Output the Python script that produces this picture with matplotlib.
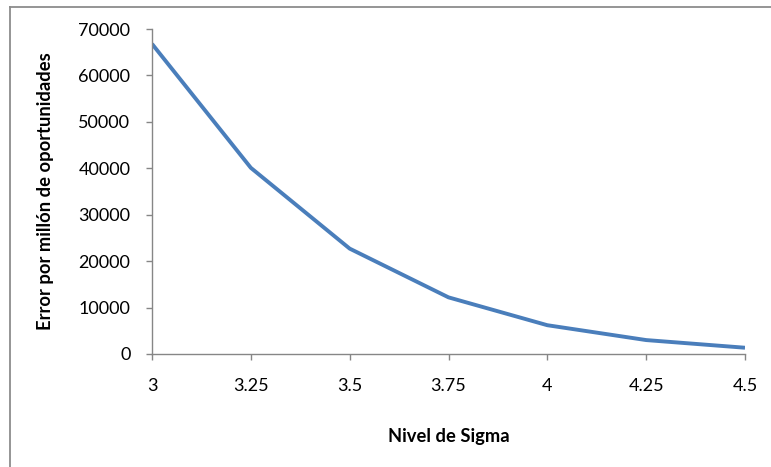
import matplotlib
matplotlib.use('Agg')
import matplotlib.pyplot as plt
from matplotlib.lines import Line2D

# Sigma levels and defects per million opportunities
sigma = [3, 3.25, 3.5, 3.75, 4, 4.25, 4.5]
dpmo = [66800, 40100, 22700, 12200, 6200, 3000, 1350]
sigma_labels = ['3', '3.25', '3.5', '3.75', '4', '4.25', '4.5']
y_ticks = [0, 10000, 20000, 30000, 40000, 50000, 60000, 70000]

plt.rcParams['font.family'] = ['Lato', 'DejaVu Sans']

fig = plt.figure(figsize=(7.71, 4.67), dpi=100, facecolor='w')
ax = fig.add_axes([152 / 771, 1 - 354 / 467, 593 / 771, 325 / 467])

ax.plot(sigma, dpmo, color='#4A7EBB', lw=2.8, solid_capstyle='butt',
        solid_joinstyle='round')

ax.set_xlim(3, 4.5)
ax.set_ylim(0, 70000)
ax.set_xticks(sigma)
ax.set_xticklabels(sigma_labels)
ax.set_yticks(y_ticks)
ax.set_yticklabels([str(v) for v in y_ticks])

axis_grey = '#868686'
for spine in ('top', 'right'):
    ax.spines[spine].set_visible(False)
for spine in ('left', 'bottom'):
    ax.spines[spine].set_color(axis_grey)
    ax.spines[spine].set_linewidth(1.0)

ax.tick_params(axis='both', direction='out', length=4.5, width=1.0,
               color=axis_grey, labelsize=13, labelcolor='black')
ax.tick_params(axis='x', pad=13)
ax.tick_params(axis='y', pad=11)

ax.set_ylabel('Error por millón de oportunidades', fontsize=13.2,
              fontweight='bold')
ax.yaxis.set_label_coords(-0.180, 0.5)
ax.set_xlabel('Nivel de Sigma', fontsize=13.2, fontweight='bold')
ax.xaxis.set_label_coords(0.5, -0.255)
ax.xaxis.label.set_va('center')
ax.yaxis.label.set_va('center')

# chart area border (only top and left edges visible in the crop)
frame_x = 9.5 / 771
frame_y = 1 - 6.5 / 467
fig.add_artist(Line2D([frame_x, 1], [frame_y, frame_y], color='#8c8c8c',
                      lw=1.3, transform=fig.transFigure))
fig.add_artist(Line2D([frame_x, frame_x], [0, frame_y], color='#8c8c8c',
                      lw=1.3, transform=fig.transFigure))

fig.savefig('out.png', dpi=100, facecolor='w')
